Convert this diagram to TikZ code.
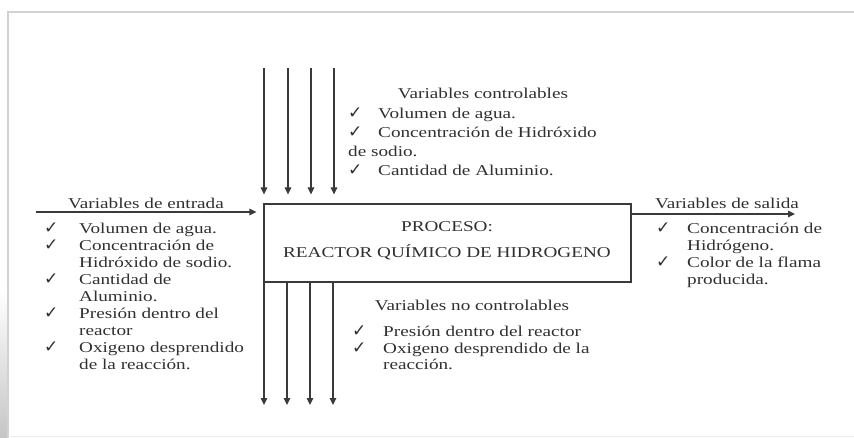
\documentclass[tikz,border=0pt]{standalone}
\usepackage{fontspec}
\setmainfont[FakeStretch=1.28]{Liberation Serif}
\newfontfamily\dejavu{DejaVu Sans}
\usetikzlibrary{arrows.meta}
\definecolor{txt}{HTML}{303030}
\definecolor{ln}{HTML}{3A3A3A}
\newcommand{\chk}{{\dejavu\fontsize{17}{17}\selectfont ✓}}
\tikzset{
  lbl/.style={text=txt, inner sep=0pt, font=\fontsize{15}{17}\selectfont},
  lst/.style={text=txt, inner sep=0pt, anchor=base west},
  arr/.style={draw=ln, line width=1.1pt, -{Triangle[length=7pt,width=6.5pt]}},
  procbox/.style={draw=ln, line width=1.1pt, minimum width=367pt, minimum height=78pt, inner sep=0pt}
}
\begin{document}
\begin{tikzpicture}[x=1pt,y=-1pt]
\useasboundingbox (0,0) rectangle (854,438);
% page frame
\shade[top color=white, bottom color=gray!45] (0,290) rectangle (8,438);
\draw[gray!35, line width=1.5pt] (8,438) -- (8,12) -- (854,12);
\draw[gray!15, line width=1pt] (8,436) -- (854,436);

% process box
\node[procbox] (box) at (447.5,243) {};
\node[lbl] (p1) at (447,227) {PROCESO:};
\node[lbl] (p2) at (447,252) {REACTOR QUÍMICO DE HIDROGENO};

% top arrows
\foreach \i/\x in {1/264,2/288,3/311,4/334}{
  \coordinate (t\i) at (\x,68);
  \draw[arr, shorten >=9pt] (t\i) -- (t\i |- box.north);
}
% bottom arrows
\foreach \i/\x in {1/264,2/287,3/310,4/333}{
  \coordinate (b\i) at (\x,405);
  \draw[arr] (b\i |- box.south) -- (b\i);
}
% input arrow
\coordinate (in) at (36,212);
\draw[arr, shorten >=7pt] (in) -- (in -| box.west);
% output arrow
\coordinate (out) at (795,214);
\draw[arr] (out -| box.east) -- (out);

% titles
\node[lbl] (tin) at (146,203) {Variables de entrada};
\node[lbl] (tctl) at (483,93) {Variables controlables};
\node[lbl] (tnc) at (472,305) {Variables no controlables};
\node[lbl] (tout) at (727,203) {Variables de salida};

% left list
\node[lst] (lin) at (44,234) {\fontsize{15}{17}\selectfont
\begin{tabular}[t]{@{}p{35pt}@{}l@{}}
\chk & Volumen de agua.\\
\chk & Concentración de\\
     & Hidróxido de sodio.\\
\chk & Cantidad de\\
     & Aluminio.\\
\chk & Presión dentro del\\
     & reactor\\
\chk & Oxigeno desprendido\\
     & de la reacción.
\end{tabular}};

% controllable list
\node[lst] (lctl) at (348,119) {\fontsize{15}{18.7}\selectfont
\begin{tabular}[t]{@{}p{30pt}@{}l@{}}
\chk & Volumen de agua.\\
\chk & Concentración\ de\ Hidróxido\\
\multicolumn{2}{@{}l@{}}{de sodio.}\\
\chk & Cantidad de Aluminio.
\end{tabular}};

% non-controllable list
\node[lst] (lnc) at (352,337) {\fontsize{15}{16.5}\selectfont
\begin{tabular}[t]{@{}p{31pt}@{}l@{}}
\chk & Presión dentro del reactor\\
\chk & Oxigeno desprendido de la\\
     & reacción.
\end{tabular}};

% output list
\node[lst] (lout) at (656,234) {\fontsize{15}{17}\selectfont
\begin{tabular}[t]{@{}p{31pt}@{}l@{}}
\chk & Concentración de\\
     & Hidrógeno.\\
\chk & Color de la flama\\
     & producida.
\end{tabular}};
\end{tikzpicture}
\end{document}
